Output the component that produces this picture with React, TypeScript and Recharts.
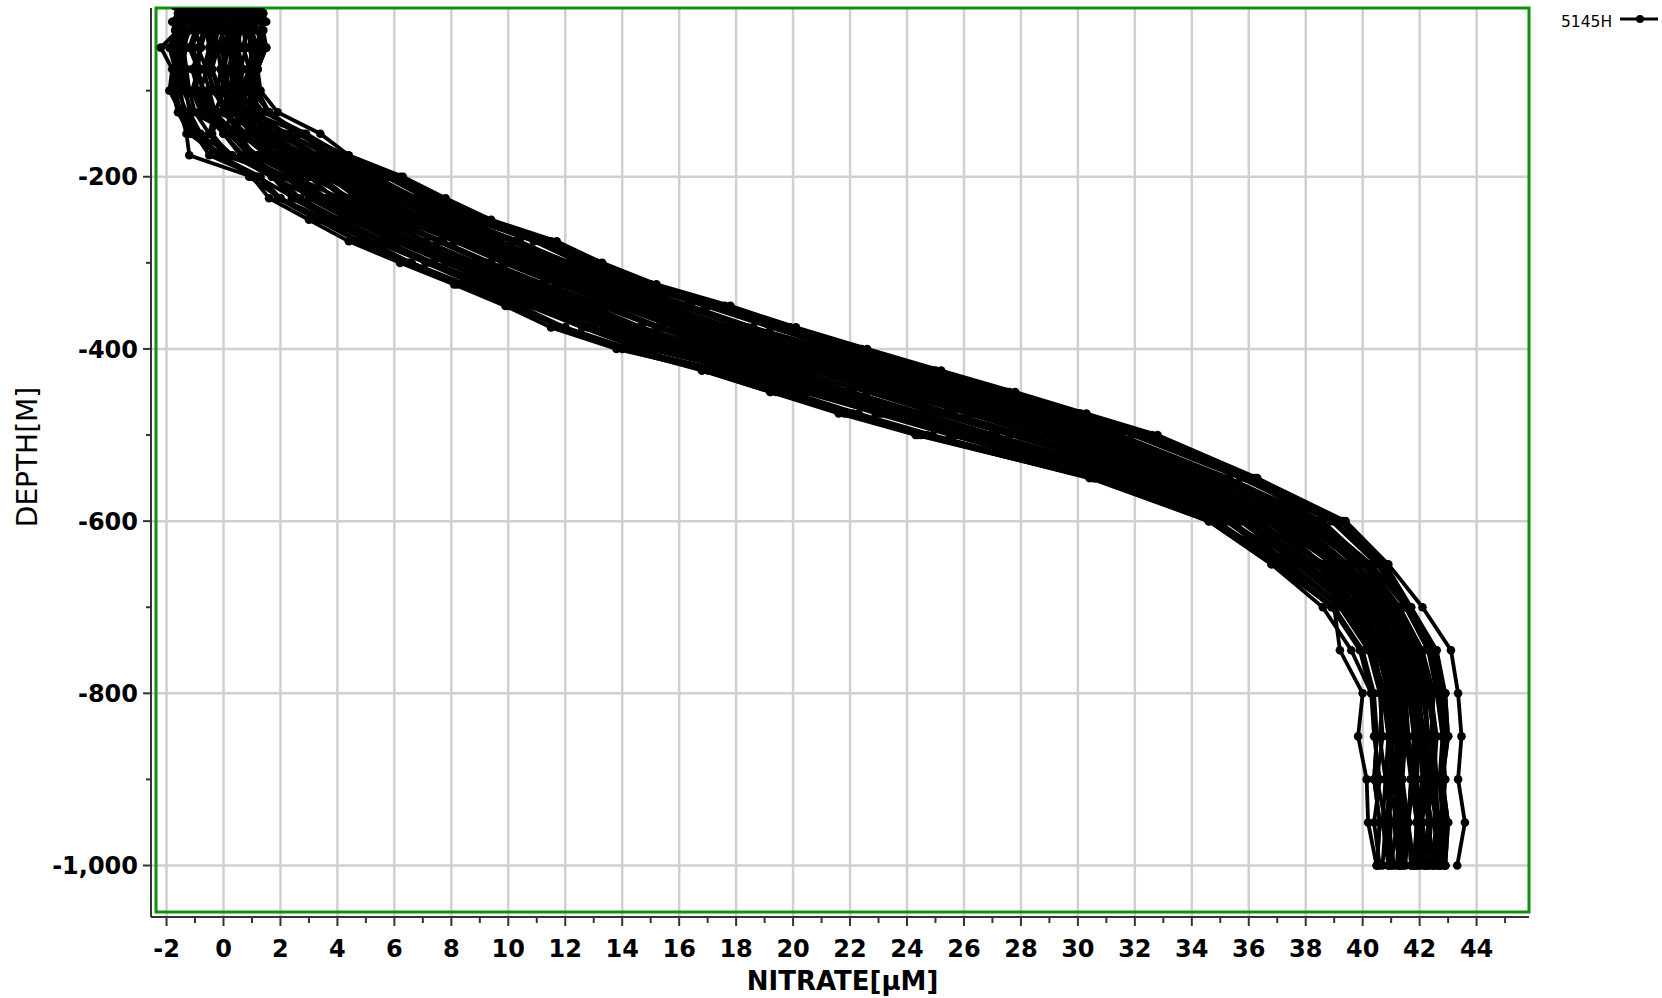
import React from 'react';
import { ScatterChart, Scatter, XAxis, YAxis, CartesianGrid, ReferenceArea, Legend } from 'recharts';

// Depth of each sample (m, negative = below surface)
const DEPTHS = [-2, -10, -20, -30, -50, -75, -100, -125, -150, -175, -200, -225, -250, -275, -300, -325, -350, -375, -400, -425, -450, -475, -500, -550, -600, -650, -700, -750, -800, -850, -900, -950, -1000];

// Nitrate [µM] for each cast, one value per depth above
const CAST_01 = [1.0, 1.1, 1.3, 1.4, 1.5, 1.2, 1.3, 1.9, 3.4, 4.4, 6.3, 7.8, 9.4, 11.7, 13.3, 15.2, 17.8, 20.1, 22.6, 25.2, 27.8, 30.3, 32.8, 36.3, 39.4, 40.9, 42.1, 43.1, 43.35, 43.47, 43.35, 43.59, 43.32];
const CAST_02 = [-1.5, -1.55, -1.6, -1.6, -2.2, -1.8, -1.9, -1.5, -1.3, -1.2, 1.0, 1.6, 3.0, 4.4, 6.2, 8.1, 9.9, 11.5, 13.8, 17.0, 19.4, 21.8, 24.4, 30.4, 34.6, 36.8, 39.0, 39.2, 40.0, 39.84, 40.14, 40.19, 40.49];
const CAST_03 = [0.8, 0.9, 0.7, 0.8, 1.0, 0.9, 0.6, 1.1, 2.2, 3.8, 5.3, 6.8, 8.5, 10.3, 12.2, 14.2, 16.3, 18.6, 21.3, 24.0, 26.6, 29.2, 31.5, 35.3, 38.1, 40.0, 41.3, 42.0, 42.4, 42.6, 42.5, 42.7, 42.6];
const CAST_04 = [0.3, 0.2, 0.4, 0.1, 0.3, 0.2, 0.4, 0.6, 1.5, 2.9, 4.4, 5.9, 7.5, 9.2, 11.0, 13.0, 15.1, 17.2, 19.7, 22.4, 25.1, 27.7, 30.1, 34.3, 37.4, 39.5, 40.9, 41.6, 41.9, 42.2, 42.1, 42.3, 42.2];
const CAST_05 = [-0.6, -0.4, -0.7, -0.5, -0.4, -0.6, -0.3, 0.0, 0.8, 1.9, 3.5, 5.0, 6.5, 8.1, 9.9, 11.8, 13.8, 15.9, 18.1, 20.8, 23.5, 26.1, 28.7, 33.2, 36.7, 39.0, 40.6, 41.3, 41.7, 41.8, 41.9, 42.0, 41.9];
const CAST_06 = [-1.1, -0.9, -1.2, -1.0, -0.8, -1.1, -0.9, -0.6, 0.2, 1.2, 2.5, 4.1, 5.6, 7.1, 8.8, 10.7, 12.6, 14.6, 16.8, 19.2, 21.9, 24.5, 27.1, 31.9, 35.7, 38.3, 40.2, 41.0, 41.3, 41.5, 41.4, 41.6, 41.5];
const CAST_07 = [-1.4, -1.3, -1.5, -1.4, -1.6, -1.5, -1.6, -1.3, -0.9, 0.3, 1.7, 3.2, 4.7, 6.2, 7.8, 9.5, 11.4, 13.4, 15.5, 17.7, 20.3, 23.0, 25.6, 30.6, 34.6, 37.7, 39.7, 40.6, 41.0, 40.9, 41.2, 41.1, 41.3];
const CAST_08 = [1.0, 1.1, 0.9, 1.2, 1.3, 1.1, 1.0, 1.6, 2.7, 4.3, 5.8, 7.3, 9.0, 10.9, 12.8, 14.9, 17.0, 19.5, 22.3, 24.9, 27.5, 30.0, 32.2, 35.9, 38.5, 40.3, 41.5, 42.3, 42.7, 42.8, 42.9, 42.8, 42.9];
const CAST_09 = [0.5, 0.6, 0.4, 0.6, 0.5, 0.7, 0.5, 0.6, 1.2, 2.4, 4.0, 5.5, 7.0, 8.7, 10.5, 12.4, 14.5, 16.6, 19.0, 21.7, 24.3, 26.9, 29.5, 33.8, 37.1, 39.3, 40.8, 41.8, 42.1, 42.3, 42.4, 42.3, 42.5];
const CAST_10 = [-0.2, -0.1, -0.3, 0.0, -0.2, -0.1, -0.2, 0.0, 0.6, 1.5, 3.0, 4.5, 6.0, 7.6, 9.3, 11.2, 13.2, 15.2, 17.4, 19.9, 22.6, 25.3, 27.9, 32.5, 36.2, 38.7, 40.4, 41.1, 41.5, 41.6, 41.7, 41.6, 41.8];
const CAST_11 = [-0.8, -0.7, -0.9, -0.6, -0.8, -0.9, -0.7, -0.4, 0.2, 0.9, 2.0, 3.7, 5.2, 6.7, 8.3, 10.1, 12.0, 14.1, 16.2, 18.4, 21.1, 23.8, 26.4, 31.3, 35.2, 38.0, 40.0, 40.8, 41.2, 41.4, 41.3, 41.5, 41.4];
const CAST_12 = [-1.7, -1.6, -1.8, -1.7, -1.9, -1.7, -1.8, -1.6, -1.2, -0.2, 1.2, 2.5, 4.1, 5.6, 7.1, 8.8, 10.7, 12.6, 14.6, 16.8, 19.2, 21.9, 24.5, 30.6, 34.8, 37.2, 39.4, 40.3, 40.7, 40.6, 40.8, 40.7, 40.9];
const CAST_13 = [0.1, 0.0, -0.1, 0.2, 0.0, 0.1, 0.2, 0.7, 1.8, 3.3, 4.8, 6.3, 7.9, 9.7, 11.6, 13.6, 15.6, 17.8, 20.5, 23.2, 25.8, 28.4, 30.8, 34.8, 37.8, 39.8, 41.1, 41.9, 42.3, 42.5, 42.6, 42.6, 42.7];
const CAST_14 = [0.4, 0.3, 0.5, 0.2, 0.4, 0.2, 0.0, -0.3, -0.5, 0.0, 0.9, 2.0, 3.6, 5.1, 6.6, 8.2, 10.0, 12.0, 14.0, 16.8, 19.2, 21.6, 24.3, 30.5, 34.6, 36.8, 38.6, 39.6, 40.3, 40.5, 40.4, 40.6, 40.5];
const CAST_15 = [1.2, 1.4, 1.5, 1.3, 1.5, 1.2, 1.0, 0.8, 1.0, 2.2, 3.8, 5.3, 6.8, 8.4, 10.3, 12.2, 14.2, 16.3, 18.6, 21.3, 24.0, 26.6, 29.2, 33.6, 36.9, 39.2, 40.7, 41.6, 42.0, 42.0, 42.2, 42.1, 42.3];
const CAST_16 = [1.2, 1.3, 1.1, 1.2, 1.4, 1.1, 1.2, 1.6, 2.6, 3.9, 5.9, 7.3, 8.9, 11.2, 12.8, 14.7, 17.2, 19.5, 21.9, 24.6, 27.2, 29.7, 32.2, 35.9, 39.0, 40.6, 41.6, 42.4, 42.8, 42.9, 42.7, 42.9, 42.8];
const CAST_17 = [0.9, 1.0, 0.8, 1.0, 0.9, 1.1, 0.8, 1.2, 2.1, 3.3, 5.4, 6.7, 8.3, 10.4, 12.1, 14.0, 16.4, 18.6, 21.1, 23.8, 26.3, 28.8, 31.3, 35.3, 38.6, 40.2, 41.3, 42.1, 42.5, 42.4, 42.6, 42.5, 42.7];
const CAST_18 = [0.6, 0.7, 0.5, 0.7, 0.8, 0.6, 0.7, 0.9, 1.7, 2.8, 4.8, 6.1, 7.6, 9.7, 11.4, 13.3, 15.6, 17.7, 20.2, 23.0, 25.5, 28.0, 30.5, 34.7, 38.1, 39.8, 41.0, 41.8, 42.2, 42.3, 42.2, 42.4, 42.3];
const CAST_19 = [0.3, 0.4, 0.2, 0.4, 0.3, 0.5, 0.3, 0.5, 1.3, 2.3, 4.3, 5.5, 7.0, 9.0, 10.6, 12.5, 14.8, 16.9, 19.3, 22.1, 24.7, 27.1, 29.7, 34.1, 37.6, 39.4, 40.7, 41.5, 41.9, 42.0, 42.1, 41.9, 42.1];
const CAST_20 = [0.0, 0.1, -0.1, 0.1, 0.2, 0.0, 0.1, 0.3, 1.0, 1.9, 3.8, 4.9, 6.4, 8.2, 9.9, 11.8, 14.1, 16.0, 18.4, 21.3, 23.8, 26.3, 28.8, 33.5, 37.1, 39.0, 40.4, 41.2, 41.6, 41.8, 41.7, 41.9, 41.8];
const CAST_21 = [-0.3, -0.2, -0.4, -0.2, -0.3, -0.4, -0.2, 0.1, 0.7, 1.5, 3.3, 4.2, 5.7, 7.5, 9.2, 11.1, 13.3, 15.2, 17.5, 20.5, 23.0, 25.4, 28.0, 32.9, 36.6, 38.5, 40.1, 41.0, 41.4, 41.5, 41.7, 41.6, 41.7];
const CAST_22 = [-0.6, -0.5, -0.7, -0.6, -0.5, -0.7, -0.5, -0.3, 0.4, 1.1, 2.7, 3.6, 5.1, 6.8, 8.5, 10.4, 12.5, 14.3, 16.7, 19.7, 22.1, 24.6, 27.1, 32.3, 36.2, 38.1, 39.8, 40.8, 41.2, 41.3, 41.2, 41.4, 41.3];
const CAST_23 = [-0.9, -1.0, -0.8, -0.9, -1.1, -0.8, -1.0, -0.7, 0.0, 0.7, 2.2, 3.0, 4.4, 6.0, 7.8, 9.7, 11.7, 13.4, 15.8, 18.8, 21.3, 23.7, 26.3, 31.7, 35.7, 37.7, 39.5, 40.5, 40.9, 41.0, 41.1, 40.9, 41.1];
const CAST_24 = [-1.2, -1.3, -1.1, -1.2, -1.4, -1.3, -1.2, -1.0, -0.5, 0.3, 1.7, 2.4, 3.8, 5.3, 7.1, 9.0, 10.9, 12.6, 14.9, 18.0, 20.5, 22.9, 25.5, 31.1, 35.2, 37.3, 39.2, 40.2, 40.6, 40.7, 40.5, 40.8, 40.7];
const CAST_25 = [-1.5, -1.4, -1.6, -1.5, -1.7, -1.6, -1.5, -1.4, -1.0, -0.5, 1.2, 1.9, 3.3, 4.7, 6.5, 8.4, 10.2, 11.8, 14.2, 17.3, 19.7, 22.1, 24.7, 30.6, 34.8, 37.0, 38.9, 39.9, 40.3, 40.4, 40.6, 40.4, 40.6];
const CAST_26 = [-0.4, -0.3, -0.5, -0.4, -0.2, -0.4, -0.1, 0.9, 2.8, 4.2, 6.2, 7.6, 9.2, 11.5, 13.1, 15.0, 17.6, 19.9, 22.4, 25.0, 27.6, 30.1, 32.6, 36.2, 39.3, 40.8, 41.7, 42.6, 42.9, 43.0, 42.8, 43.0, 42.9];
const CAST_27 = [1.0, 0.9, 1.1, 1.0, 1.2, 0.9, 0.8, 0.6, 0.5, 1.0, 2.5, 3.3, 4.8, 6.4, 8.2, 10.1, 12.1, 13.9, 16.2, 19.3, 21.7, 24.1, 26.7, 32.0, 35.9, 37.9, 39.6, 40.6, 41.0, 41.2, 41.1, 41.3, 41.2];
const CAST_28 = [-1.0, -0.9, -1.1, -1.0, -0.8, -1.0, -0.7, -0.2, 1.4, 2.9, 5.1, 6.4, 8.0, 10.1, 11.7, 13.6, 16.0, 18.2, 20.6, 23.4, 25.9, 28.4, 30.9, 35.0, 38.3, 40.0, 41.1, 42.0, 42.3, 42.5, 42.3, 42.6, 42.4];
const CAST_29 = [1.3, 1.2, 1.4, 1.3, 1.2, 1.0, 1.1, 1.2, 1.5, 2.2, 4.1, 5.2, 6.7, 8.6, 10.3, 12.2, 14.4, 16.5, 18.9, 21.7, 24.2, 26.7, 29.2, 33.8, 37.4, 39.2, 40.5, 41.4, 41.7, 41.9, 41.8, 42.0, 41.9];
const CAST_30 = [0.2, 0.3, 0.1, 0.3, 0.2, 0.4, 0.2, -0.1, -0.4, 0.2, 1.9, 2.7, 4.1, 5.7, 7.4, 9.3, 11.3, 13.0, 15.3, 18.4, 20.9, 23.3, 25.9, 31.4, 35.4, 37.5, 39.3, 40.3, 40.8, 40.9, 40.8, 41.0, 40.9];
const CAST_31 = [-1.3, -1.2, -1.4, -1.3, -1.5, -1.4, -1.3, -1.2, -0.8, -0.2, 1.3, 2.0, 3.4, 4.8, 6.6, 8.5, 10.4, 12.0, 14.3, 17.5, 19.9, 22.3, 24.9, 30.8, 34.9, 37.1, 39.0, 40.0, 40.4, 40.5, 40.4, 40.6, 40.5];
const CAST_32 = [0.5, 0.4, 0.6, 0.5, 0.4, 0.6, 0.5, 0.3, 0.0, 0.6, 1.8, 2.5, 4.0, 5.5, 7.3, 9.2, 11.1, 12.8, 15.1, 18.2, 20.7, 23.1, 25.7, 31.3, 35.3, 37.4, 39.3, 40.4, 40.7, 40.9, 41.0, 40.8, 41.0];
const CAST_33 = [-1.6, -1.5, -1.7, -1.6, -1.8, -1.6, -1.7, -1.5, -1.1, 0.0, 2.3, 3.2, 4.6, 6.2, 8.0, 9.9, 11.9, 13.7, 16.0, 19.1, 21.5, 23.9, 26.5, 31.9, 35.8, 37.8, 39.6, 40.6, 41.0, 41.1, 40.9, 41.2, 41.0];
const CAST_34 = [0.0, -0.1, 0.1, 0.0, -0.1, 0.1, 0.0, 0.2, 0.5, 1.1, 2.6, 3.5, 4.9, 6.6, 8.3, 10.2, 12.3, 14.1, 16.4, 19.5, 21.9, 24.4, 26.9, 32.2, 36.0, 38.0, 39.7, 40.7, 41.1, 41.2, 41.3, 41.1, 41.3];
const CAST_35 = [-1.0, -1.1, -0.9, -1.0, -1.2, -0.9, -1.1, -0.8, 0.1, 1.2, 3.0, 3.9, 5.4, 7.1, 8.9, 10.8, 12.9, 14.7, 17.1, 20.1, 22.6, 25.0, 27.6, 32.6, 36.4, 38.3, 39.9, 40.9, 41.3, 41.4, 41.3, 41.5, 41.4];
const CAST_36 = [0.8, 0.7, 0.9, 0.8, 0.7, 0.9, 0.7, 0.6, 0.9, 1.6, 3.4, 4.4, 5.9, 7.7, 9.4, 11.3, 13.5, 15.4, 17.8, 20.7, 23.2, 25.6, 28.2, 33.1, 36.8, 38.6, 40.2, 41.1, 41.5, 41.6, 41.8, 41.6, 41.7];
const CAST_37 = [-0.7, -0.8, -0.6, -0.7, -0.9, -0.6, -0.8, -0.5, 0.6, 1.8, 3.7, 4.7, 6.2, 8.1, 9.8, 11.7, 13.9, 15.8, 18.2, 21.1, 23.6, 26.1, 28.6, 33.4, 37.0, 38.9, 40.3, 41.3, 41.7, 41.8, 41.7, 41.9, 41.8];
const CAST_38 = [-1.4, -1.5, -1.3, -1.4, -1.3, -1.5, -1.4, -1.1, 0.3, 2.0, 4.0, 5.1, 6.6, 8.5, 10.2, 12.1, 14.3, 16.3, 18.7, 21.6, 24.1, 26.6, 29.1, 33.7, 37.3, 39.1, 40.5, 41.4, 41.8, 42.0, 41.9, 42.1, 42.0];
const CAST_39 = [1.0, 1.1, 0.9, 1.0, 1.1, 0.9, 1.0, 1.1, 1.4, 2.5, 4.5, 5.6, 7.2, 9.2, 10.8, 12.7, 15.0, 17.1, 19.5, 22.3, 24.9, 27.3, 29.9, 34.2, 37.7, 39.5, 40.8, 41.6, 42.0, 42.1, 42.2, 42.0, 42.2];
const CAST_40 = [-0.5, -0.4, -0.6, -0.5, -0.3, -0.5, -0.4, 0.2, 1.6, 2.7, 4.7, 5.9, 7.5, 9.5, 11.2, 13.1, 15.4, 17.5, 20.0, 22.7, 25.3, 27.8, 30.3, 34.5, 38.0, 39.7, 40.9, 41.7, 42.1, 42.3, 42.2, 42.4, 42.2];
const CAST_41 = [0.4, 0.5, 0.3, 0.5, 0.6, 0.4, 0.5, 0.8, 1.9, 3.1, 5.2, 6.6, 8.1, 10.2, 11.9, 13.8, 16.2, 18.4, 20.8, 23.6, 26.1, 28.6, 31.1, 35.1, 38.4, 40.1, 41.2, 42.0, 42.4, 42.5, 42.4, 42.6, 42.5];
const CAST_42 = [-0.1, 0.0, -0.2, -0.1, 0.1, -0.1, 0.0, 0.6, 2.3, 3.6, 5.7, 7.1, 8.7, 10.9, 12.5, 14.4, 16.9, 19.2, 21.6, 24.3, 26.9, 29.4, 31.9, 35.7, 38.9, 40.5, 41.5, 42.3, 42.6, 42.8, 42.7, 42.8, 42.7];
const CAST_43 = [0.7, 0.8, 0.6, 0.8, 0.7, 0.9, 0.8, 1.4, 2.9, 4.2, 6.0, 7.5, 9.1, 11.3, 13.0, 14.9, 17.4, 19.7, 22.2, 24.8, 27.4, 29.9, 32.4, 36.0, 39.2, 40.7, 41.7, 42.5, 42.9, 43.0, 42.8, 43.0, 42.9];

const CASTS = [
  CAST_01, CAST_02, CAST_03, CAST_04, CAST_05, CAST_06, CAST_07, CAST_08, CAST_09, CAST_10,
  CAST_11, CAST_12, CAST_13, CAST_14, CAST_15, CAST_16, CAST_17, CAST_18, CAST_19, CAST_20,
  CAST_21, CAST_22, CAST_23, CAST_24, CAST_25, CAST_26, CAST_27, CAST_28, CAST_29, CAST_30,
  CAST_31, CAST_32, CAST_33, CAST_34, CAST_35, CAST_36, CAST_37, CAST_38, CAST_39, CAST_40,
  CAST_41, CAST_42, CAST_43,
];
const SERIES_NAME = '5145H';

const X_GRID_VALUES = [-2, 0, 2, 4, 6, 8, 10, 12, 14, 16, 18, 20, 22, 24, 26, 28, 30, 32, 34, 36, 38, 40, 42, 44];
const X_ALL_TICKS = [-2, -1, 0, 1, 2, 3, 4, 5, 6, 7, 8, 9, 10, 11, 12, 13, 14, 15, 16, 17, 18, 19, 20, 21, 22, 23, 24, 25, 26, 27, 28, 29, 30, 31, 32, 33, 34, 35, 36, 37, 38, 39, 40, 41, 42, 43, 44, 45];
const Y_GRID_VALUES = [-200, -400, -600, -800, -1000];
const Y_ALL_TICKS = [-100, -200, -300, -400, -500, -600, -700, -800, -900, -1000];
const X_DOMAIN: [number, number] = [-2.37, 45.84];
const Y_DOMAIN: [number, number] = [-1054, -4];

const X_TITLE = 'NITRATE[µM]';
const Y_TITLE = 'DEPTH[M]';

const FONT = '"DejaVu Sans", "Liberation Sans", Arial, sans-serif';
const AXIS_COLOR = '#333333';

const seriesData = CASTS.map((cast) => cast.map((x, i) => ({ x, y: DEPTHS[i] })));

const XTick = (props: any) => {
  const { x, y, payload } = props;
  const v = Number(payload && payload.value);
  const major = Math.abs(v % 2) === 0;
  return (
    <g>
      <line x1={x} x2={x} y1={y} y2={y + (major ? 9 : 6)} stroke={AXIS_COLOR} strokeWidth={2} />
      {major ? (
        <text x={x} y={y + 40} textAnchor="middle" fontFamily={FONT} fontWeight="bold" fontSize={24} fill="#000">
          {String(v)}
        </text>
      ) : null}
    </g>
  );
};

const YTick = (props: any) => {
  const { x, y, payload } = props;
  const v = Number(payload && payload.value);
  const major = Math.abs(v % 200) === 0;
  return (
    <g>
      <line x1={x - (major ? 8 : 5)} x2={x} y1={y} y2={y} stroke={AXIS_COLOR} strokeWidth={2} />
      {major ? (
        <text x={x - 13} y={y + 8.6} textAnchor="end" fontFamily={FONT} fontWeight="bold" fontSize={24} fill="#000">
          {v.toLocaleString('en-US')}
        </text>
      ) : null}
    </g>
  );
};

const renderXTitle = (p: any) => {
  const vb = p && p.viewBox ? p.viewBox : { x: 151, y: 917, width: 1378, height: 81 };
  const cx = vb.x + 5 + (vb.width - 5) / 2;
  return (
    <text x={cx} y={vb.y + 73} textAnchor="middle" fontFamily={FONT} fontWeight="bold" fontSize={26} fill="#000">
      {X_TITLE}
    </text>
  );
};

const renderYTitle = (p: any) => {
  const vb = p && p.viewBox ? p.viewBox : { x: 0, y: 8, width: 151, height: 909 };
  const cx = vb.x + 37;
  const cy = 457;
  return (
    <text x={cx} y={cy} textAnchor="middle" transform={`rotate(-90, ${cx}, ${cy})`} fontFamily={FONT} fontSize={28} fill="#000">
      {Y_TITLE}
    </text>
  );
};

const renderDot = (props: any) => <circle cx={props.cx} cy={props.cy} r={4.3} fill="#000" />;

const LegendContent = (props: any) => {
  const name = props && props.payload && props.payload[0] ? props.payload[0].value : SERIES_NAME;
  return (
    <svg width={107} height={36} style={{ display: 'block' }}>
      <text x={6} y={26.5} fontFamily={FONT} fontSize={15.5} fill="#000">{name}</text>
      <line x1={65} x2={103} y1={19} y2={19} stroke="#000" strokeWidth={3} />
      <circle cx={85} cy={19} r={4} fill="#000" />
    </svg>
  );
};

export default function App() {
  return (
    <div style={{ position: 'absolute', left: 0, top: 0, width: 1662, height: 998, background: '#ffffff' }}>
      <ScatterChart width={1662} height={998} margin={{ top: 8, right: 133, bottom: 0, left: 0 }}>
        <CartesianGrid
          stroke="#d0d0d4"
          strokeWidth={2.5}
          verticalValues={X_GRID_VALUES}
          horizontalValues={Y_GRID_VALUES}
        />
        <XAxis
          dataKey="x"
          type="number"
          domain={X_DOMAIN}
          allowDataOverflow
          padding={{ left: 5, right: 0 }}
          ticks={X_ALL_TICKS}
          interval={0}
          height={81}
          tickSize={0}
          tickMargin={0}
          tickLine={false}
          axisLine={{ stroke: AXIS_COLOR, strokeWidth: 2 }}
          tick={<XTick />}
          label={renderXTitle}
        />
        <YAxis
          dataKey="y"
          type="number"
          domain={Y_DOMAIN}
          allowDataOverflow
          padding={{ top: 0, bottom: 5 }}
          ticks={Y_ALL_TICKS}
          interval={0}
          width={151}
          tickSize={0}
          tickMargin={0}
          tickLine={false}
          axisLine={{ stroke: AXIS_COLOR, strokeWidth: 2 }}
          tick={<YTick />}
          label={renderYTitle}
        />
        {seriesData.map((data, i) => (
          <Scatter
            key={i}
            name={SERIES_NAME}
            data={data}
            fill="#000"
            line={{ stroke: '#000', strokeWidth: 3.8 }}
            shape={renderDot}
            isAnimationActive={false}
          />
        ))}
        <ReferenceArea x1={X_DOMAIN[0]} x2={X_DOMAIN[1]} y1={Y_DOMAIN[0]} y2={Y_DOMAIN[1]} fill="none" fillOpacity={0} stroke="#119111" strokeWidth={3} ifOverflow="visible" />
        <Legend layout="horizontal" verticalAlign="middle" align="center" content={<LegendContent />} wrapperStyle={{ position: 'absolute', left: 1555, top: 0, width: 107, height: 36 }} />
      </ScatterChart>
    </div>
  );
}
